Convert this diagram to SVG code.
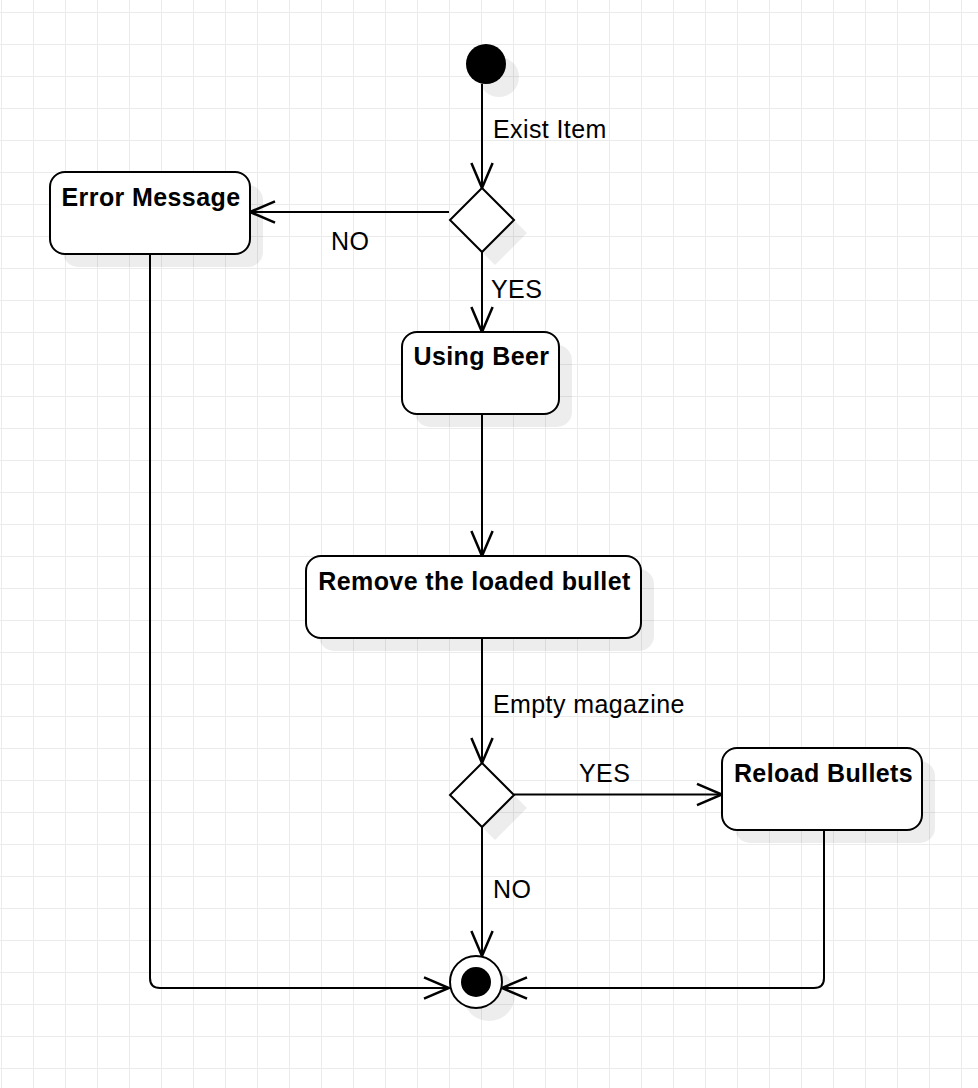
<svg xmlns="http://www.w3.org/2000/svg" width="978" height="1088" viewBox="0 0 978 1088">
<defs>
<pattern id="grid" x="1" y="12" width="32" height="32" patternUnits="userSpaceOnUse">
<path d="M0 0.5H32M0.5 0V32" fill="none" stroke="#ebebeb" stroke-width="1"/>
</pattern>
<marker id="open" markerUnits="userSpaceOnUse" markerWidth="30" markerHeight="30" viewBox="-22 -11 24 22" refX="0" refY="0" orient="auto">
<path d="M-20 -8.5L0 0L-20 8.5" fill="none" stroke="#000" stroke-width="2"/>
</marker>
</defs>
<style>
.box{fill:#fff;stroke:#000;stroke-width:2}
.sh{fill:#000;fill-opacity:0.07;stroke:none}
.edge{fill:none;stroke:#000;stroke-width:2;marker-end:url(#open)}
.t{font-family:"Liberation Sans",Arial,sans-serif;font-size:25px;letter-spacing:0.4px;fill:#000}
.b{font-weight:bold;text-anchor:middle}
</style>
<rect width="978" height="1088" fill="#fff"/>
<rect width="978" height="1088" fill="url(#grid)"/>

<g id="connectors">
<path class="edge" d="M482 84V188"/>
<path class="edge" d="M449 212H250"/>
<path class="edge" d="M482 252V332"/>
<path class="edge" d="M482 414V556"/>
<path class="edge" d="M482 638V763"/>
<path class="edge" d="M514 794.5H722"/>
<path class="edge" d="M482 827V956"/>
<path class="edge" d="M150 254V978Q150 988 160 988H449"/>
<path class="edge" d="M824 830V978Q824 988 814 988H502"/>
<text class="t" x="493" y="138">Exist Item</text>
<text class="t" x="331" y="250">NO</text>
<text class="t" x="491" y="298">YES</text>
<text class="t" x="493" y="713">Empty magazine</text>
<text class="t" x="579" y="782">YES</text>
<text class="t" x="493" y="898">NO</text>
</g>

<g id="start">
<circle class="sh" cx="499" cy="77" r="20"/>
<circle cx="486" cy="64" r="20" fill="#000"/>
</g>

<g id="decision1">
<path class="sh" d="M495 201L527 233L495 265L463 233Z"/>
<path class="box" d="M482 188L514 220L482 252L450 220Z"/>
</g>

<g id="error-message">
<rect class="sh" x="63" y="185" width="200" height="82" rx="15"/>
<rect class="box" x="50" y="172" width="200" height="82" rx="15"/>
<text class="t b" x="151" y="206">Error Message</text>
</g>

<g id="using-beer">
<rect class="sh" x="415" y="345" width="157" height="82" rx="15"/>
<rect class="box" x="402" y="332" width="157" height="82" rx="15"/>
<text class="t b" x="481.5" y="365">Using Beer</text>
</g>

<g id="remove-bullet">
<rect class="sh" x="319" y="569" width="335" height="82" rx="15"/>
<rect class="box" x="306" y="556" width="335" height="82" rx="15"/>
<text class="t b" x="474.5" y="590">Remove the loaded bullet</text>
</g>

<g id="decision2">
<path class="sh" d="M495 776L527 808L495 840L463 808Z"/>
<path class="box" d="M482 763L514 795L482 827L450 795Z"/>
</g>

<g id="reload-bullets">
<rect class="sh" x="735" y="761" width="200" height="82" rx="15"/>
<rect class="box" x="722" y="748" width="200" height="82" rx="15"/>
<text class="t b" x="823.5" y="782">Reload Bullets</text>
</g>

<g id="end">
<circle class="sh" cx="489" cy="995" r="26"/>
<circle class="box" cx="476" cy="982" r="26"/>
<circle cx="476" cy="982" r="15" fill="#000"/>
</g>
</svg>
